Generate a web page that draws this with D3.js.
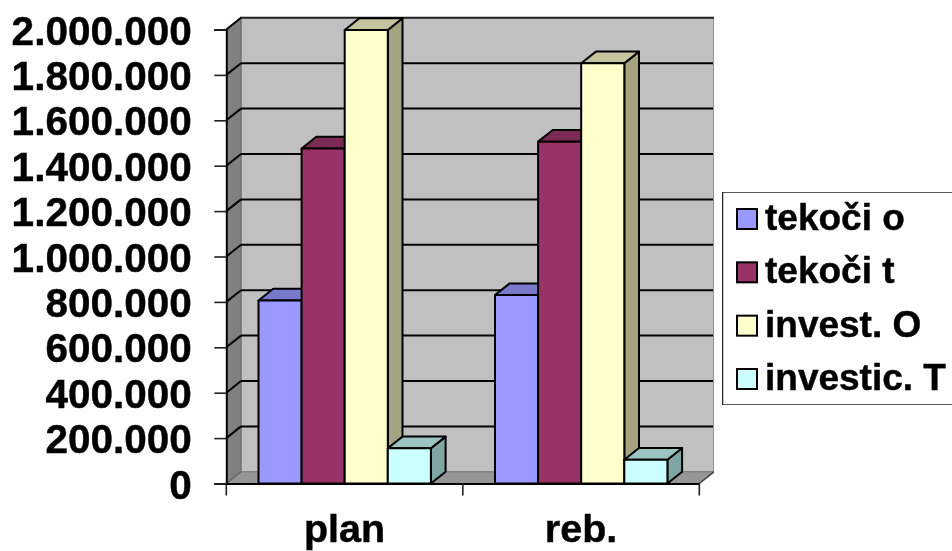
<!DOCTYPE html>
<html><head><meta charset="utf-8">
<script src="https://cdnjs.cloudflare.com/ajax/libs/d3/7.8.5/d3.min.js"></script>
<style>html,body{margin:0;padding:0;background:#fff;overflow:hidden}
svg{display:block}
text{font-family:"Liberation Sans",Arial,sans-serif;font-weight:bold;fill:#000;stroke:#000;stroke-width:0.45px}</style>
</head><body><svg id="c" width="952" height="551"><defs><filter id="soft" x="0" y="0" width="100%" height="100%"><feGaussianBlur stdDeviation="0.4"/></filter></defs></svg>
<script>
const categories = ["plan", "reb."];
const seriesNames = ["tekoči o", "tekoči t", "invest. O", "investic. T"];
const tekociO = [806000, 830000];
const tekociT = [1476000, 1506000];
const investO = [1998000, 1851000];
const investT = [155000, 105000];
const seriesValues = [tekociO, tekociT, investO, investT];
const frontColors = ["#9999ff", "#993366", "#ffffcc", "#ccffff"];
const topColors = ["#7a7acc", "#7a2952", "#c4c49e", "#9cc4c0"];
const sideColors = ["#6d6db0", "#632142", "#a3a380", "#80a6a3"];
const tickValues = d3.range(0, 2000001, 200000);

const svg = d3.select("#c");
const g = svg.append("g").attr("filter", "url(#soft)");
const x0 = d3.scaleBand().domain(categories).range([226.3, 699.3]).paddingInner(0).paddingOuter(0);
const barW = 43.1;
const x1 = d3.scaleBand().domain(d3.range(4)).range([32.2, 32.2 + barW * 4]);
const y = d3.scaleLinear().domain([0, 2000000]).range([483.5, 29.5]);
const dx = 14.7, dy = -11.7;
const L = x0.range()[0], R = x0.range()[1], B = y(0), T = y(2000000);
const poly = (pts, fill, stroke, w) => g.append("polygon")
  .attr("points", pts.map(p => p.join(",")).join(" "))
  .attr("fill", fill).attr("stroke", stroke || "none").attr("stroke-width", w || 0)
  .attr("stroke-linejoin", "round");

// walls
poly([[L + dx, T + dy], [R + dx, T + dy], [R + dx, B + dy], [L + dx, B + dy]], "#c0c0c0");
poly([[L, T], [L + dx, T + dy], [L + dx, B + dy], [L, B]], "#808080");
poly([[L, B], [L + dx, B + dy], [R + dx, B + dy], [R, B]], "#969696");
const edge = (x1_, y1_, x2_, y2_, c, w) => g.append("line")
  .attr("x1", x1_).attr("y1", y1_).attr("x2", x2_).attr("y2", y2_)
  .attr("stroke", c).attr("stroke-width", w);
edge(L + dx, B + dy, L + dx, T + dy, "#707070", 1.5);
edge(L + dx, B + dy, R + dx, B + dy, "#808080", 1.5);
edge(R + dx, B + dy, R + dx, T + dy, "#8c8c8c", 1.8);
edge(R + dx, B + dy, R, B, "#404040", 1.5);
edge(L, B, L + dx, B + dy, "#606060", 1.2);

// gridlines
tickValues.filter(v => v > 0).forEach(v => {
  const yy = y(v);
  if (v < 2000000) edge(L + dx, yy + dy, R + dx - 1, yy + dy, "#000", 2);
  else edge(L + dx - 1, yy + dy, R + dx, yy + dy, "#222", 2);
  edge(L, yy, L + dx, yy + dy, "#000", 2);
});

// bars
categories.forEach((c, ci) => {
  seriesValues.forEach((vals, si) => {
    const xa = x0(c) + x1(si), xb = xa + barW, yt = y(vals[ci]);
    poly([[xb, yt], [xb + dx, yt + dy], [xb + dx, B + dy], [xb, B]], sideColors[si], "#000", 2);
    poly([[xa, yt], [xa + dx, yt + dy], [xb + dx, yt + dy], [xb, yt]], topColors[si], "#000", 2);
    poly([[xa, yt], [xb, yt], [xb, B], [xa, B]], frontColors[si], "#000", 2);
  });
});

// axes
const fmt = d3.formatLocale({decimal: ",", thousands: ".", grouping: [3], currency: ["", ""]}).format(",d");
const yAxis = d3.axisLeft(y).tickValues(tickValues).tickFormat(fmt).tickSize(12).tickPadding(22.5);
const ya = g.append("g").attr("transform", `translate(${L},0)`).call(yAxis);
ya.select(".domain").attr("stroke", "#000").attr("stroke-width", 2);
ya.selectAll(".tick line").attr("stroke", "#222").attr("stroke-width", 1.6);
ya.selectAll("text").style("font-size", "40.5px").style("font-family", '"Liberation Sans"').style("font-weight", "bold").attr("fill", "#000").attr("dy", "0.36em");

const xAxis = d3.axisBottom(x0).tickSize(0).tickPadding(0);
const xa = g.append("g").attr("transform", `translate(0,${B})`).call(xAxis);
xa.select(".domain").attr("stroke", "#000").attr("stroke-width", 2);
xa.selectAll("text").style("font-size", "39.5px").style("font-family", '"Liberation Sans"').style("font-weight", "bold").attr("fill", "#000").attr("dy", 0).attr("y", 58.8);
categories.concat([null]).forEach((c, i) => {
  const xx = c === null ? R : x0(c);
  edge(xx, B, xx, B + 12, "#222", 1.6);
});

// legend
const lg = svg.append("g").attr("filter", "url(#soft)");
lg.append("rect").attr("x", 722.5).attr("y", 192).attr("width", 240).attr("height", 213)
  .attr("fill", "#fff").attr("stroke", "#222").attr("stroke-width", 1.5);
const rowY = d3.scaleLinear().domain([0, 3]).range([230, 390]);
seriesNames.forEach((n, i) => {
  lg.append("rect").attr("x", 737).attr("y", rowY(i) - 21).attr("width", 20).attr("height", 20)
    .attr("fill", frontColors[i]).attr("stroke", "#000").attr("stroke-width", 2);
  lg.append("text").attr("x", 765).attr("y", rowY(i)).attr("font-size", 37).text(n);
});
</script></body></html>
